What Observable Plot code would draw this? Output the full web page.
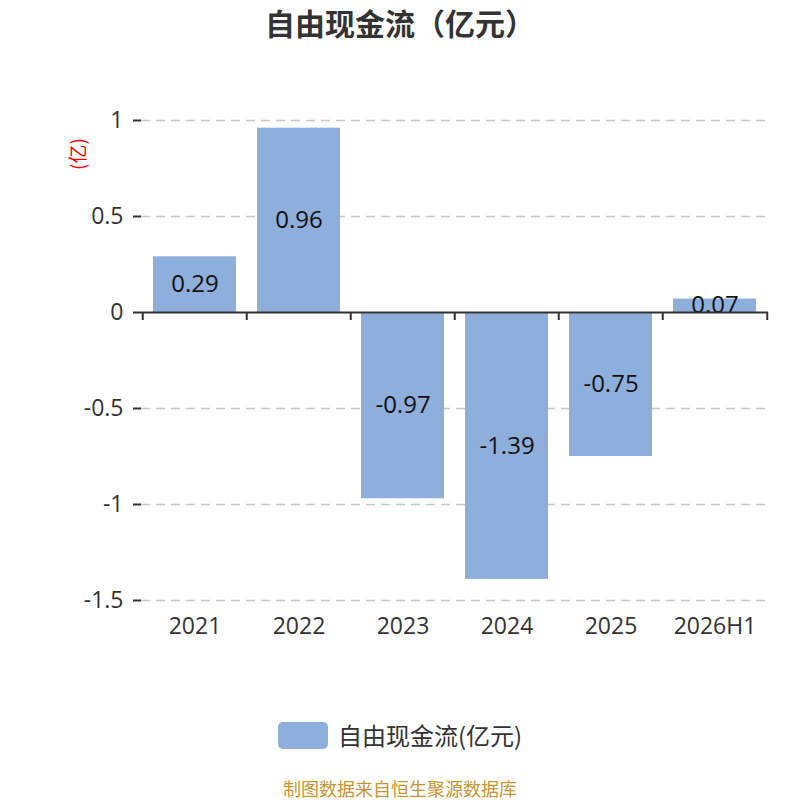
<!DOCTYPE html>
<html>
<head>
<meta charset="utf-8">
<script src="https://cdn.jsdelivr.net/npm/d3@7"></script>
<script src="https://cdn.jsdelivr.net/npm/@observablehq/plot@0.6"></script>
<style>
  body { margin: 0; background: #fff; }
  #wrap { position: relative; width: 800px; height: 800px; font-family: "Open Sans", "Noto Sans CJK SC", sans-serif; }
  #title { position: absolute; top: 2px; left: 0; width: 800px; text-align: center; font-size: 30px; line-height: 40px; font-weight: bold; color: #333; font-family: "Noto Sans CJK SC", sans-serif; }
  #chart { position: absolute; top: 0; left: 0; }
  #ylab { position: absolute; left: 61px; top: 143px; color: red; font-size: 19px; line-height: 22px; transform: rotate(-90deg); transform-origin: center; font-family: "Noto Sans CJK SC", sans-serif; }
  #legend { position: absolute; top: 721px; left: 278px; display: flex; align-items: center; font-size: 24px; line-height: 28px; color: #333; font-family: "Noto Sans CJK SC", sans-serif; }
  #legend .sw { width: 50px; height: 27px; border-radius: 5px; background: #8eaedb; margin-right: 10px; }
  #footer { position: absolute; top: 778px; left: 0; width: 800px; text-align: center; font-size: 18px; line-height: 20px; color: #c89530; font-family: "Noto Sans CJK SC", sans-serif; }
</style>
</head>
<body>
<div id="wrap">
  <div id="title">自由现金流（亿元）</div>
  <div id="chart"></div>
  <div id="ylab">(亿)</div>
  <div id="legend"><div class="sw"></div><span>自由现金流(亿元)</span></div>
  <div id="footer">制图数据来自恒生聚源数据库</div>
</div>
<script>
const categories = ["2021", "2022", "2023", "2024", "2025", "2026H1"];
const values = [0.29, 0.96, -0.97, -1.39, -0.75, 0.07];
const yTicks = [1, 0.5, 0, -0.5, -1, -1.5];
const gridTicks = [1, 0.5, -0.5, -1, -1.5];

const data = categories.map((c, i) => ({cat: c, v: values[i]}));

const W = 800, H = 660, mL = 141, mR = 32, mT = 120, mB = 60;
const step = (W - mL - mR) / categories.length;
const pxPerUnit = (H - mT - mB) / (yTicks[0] - yTicks[yTicks.length - 1]);
const tickLen = 8 / pxPerUnit;

const chart = Plot.plot({
  width: W, height: H,
  marginLeft: mL, marginRight: mR, marginTop: mT, marginBottom: mB,
  style: {fontFamily: '"Open Sans", "Noto Sans CJK SC", sans-serif', fontSize: "23px", color: "#333"},
  x: {domain: categories, paddingInner: 0.2, paddingOuter: 0.1, label: null},
  y: {domain: [yTicks[yTicks.length - 1], yTicks[0]], label: null},
  marks: [
    Plot.ruleY(gridTicks, {stroke: "#c8c8c8", strokeWidth: 1.5, strokeDasharray: "9,6"}),
    Plot.barY(data, {x: "cat", y: "v", fill: "#8eaedb"}),
    Plot.text(data, {x: "cat", y: d => d.v / 2, text: d => d.v.toFixed(2), fontSize: 24, fill: "#111"}),
    Plot.ruleY([0], {stroke: "#333", strokeWidth: 2}),
    Plot.ruleX(categories, {x: d => d, dx: -step / 2, y1: 0, y2: -tickLen, stroke: "#333", strokeWidth: 2}),
    Plot.ruleX([categories[categories.length - 1]], {x: d => d, dx: step / 2, y1: 0, y2: -tickLen, stroke: "#333", strokeWidth: 2}),
    Plot.axisY({ticks: yTicks, tickFormat: d => String(d), tickSize: 8, tickPadding: 10, strokeWidth: 2, stroke: "#333", fontSize: 23, fill: "#333"}),
    Plot.ruleX([0], {frameAnchor: "left", y1: yTicks[yTicks.length - 1], y2: yTicks[0], stroke: "#333", strokeWidth: 2}),
    Plot.axisX({tickSize: 0, tickPadding: 17, fontSize: 23, fill: "#333"})
  ]
});
document.getElementById("chart").appendChild(chart);
</script>
</body>
</html>
